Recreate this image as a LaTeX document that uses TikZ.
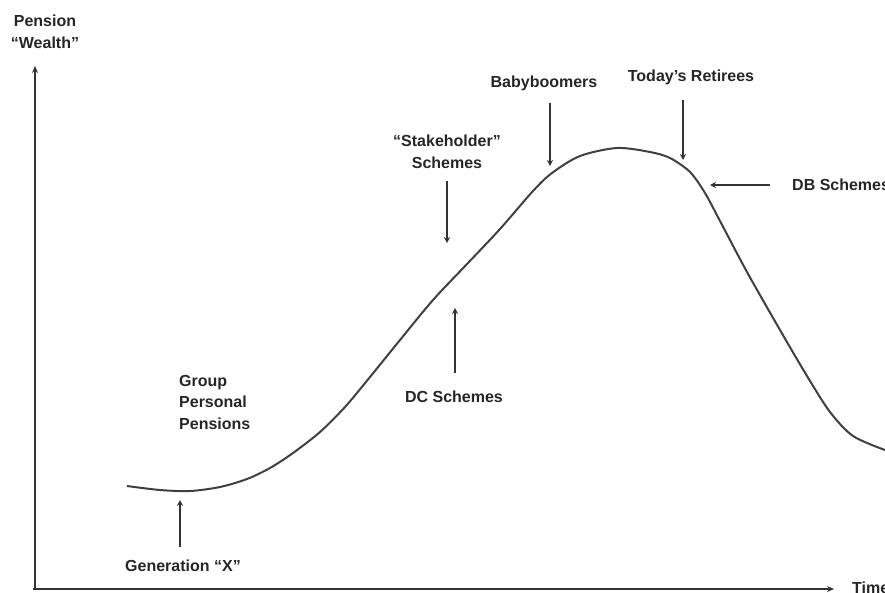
\documentclass[tikz,border=0pt]{standalone}
\usepackage{fontspec}
\setmainfont{Liberation Sans}
\usetikzlibrary{arrows.meta}
\begin{document}
\begin{tikzpicture}[x=1pt,y=-1pt,
  lbl/.style={font=\fontsize{16}{21.5}\selectfont\bfseries, text=black!85, inner sep=0pt},
  ptr/.style={line width=1.4pt, draw=black!80, -{Stealth[length=6pt,width=6pt]}},
  axis/.style={line width=1.4pt, draw=black!80, -{Stealth[length=7pt,width=6pt]}},
  curve/.style={line width=2pt, draw=black!75}]
\useasboundingbox (0,0) rectangle (885,592);
% axes
\coordinate (orig) at (35,590);
\coordinate (ytop) at (35,66);
\coordinate (xstart) at (33,589);
\coordinate (xend) at (834,589);
\draw[axis] (orig) -- (ytop);
\draw[axis] (xstart) -- (xend);
\node[lbl, align=center] (ylab) at (45,32) {Pension\\“Wealth”};
\node[lbl, anchor=west] (xlab) at (852,588) {Time};
% curve
\draw[curve] plot[smooth, tension=0.5] coordinates {
 (127,486) (160,490) (190,491) (220,487) (247,479) (270,468) (293,453)
 (320,432) (345,407) (370,377) (400,340) (433,300) (467,264) (500,229)
 (533,191) (552,173) (580,156) (617,148) (650,152) (670,158) (690,172)
 (705,193) (720,221) (747,272) (780,330) (807,376) (830,412) (853,436) (885,450)};
% labels
\node[lbl] (bb) at (544,83) {Babyboomers};
\node[lbl] (tr) at (691,77) {Today's Retirees};
\node[lbl, align=center] (sh) at (447,152) {“Stakeholder”\\Schemes};
\node[lbl, anchor=west] (db) at (792,185) {DB Schemes};
\node[lbl, align=left, anchor=west] (gpp) at (179,402) {Group\\Personal\\Pensions};
\node[lbl] (dc) at (454,397) {DC Schemes};
\node[lbl] (gx) at (183,566) {Generation “X”};
% pointers
\coordinate (bbS) at (550,103); \coordinate (bbE) at (550,166);
\coordinate (trS) at (683,100); \coordinate (trE) at (683,160);
\coordinate (shS) at (447,181); \coordinate (shE) at (447,243);
\coordinate (dbS) at (770,185); \coordinate (dbE) at (710,185);
\coordinate (dcS) at (455,373); \coordinate (dcE) at (455,308);
\coordinate (gxS) at (180,547); \coordinate (gxE) at (180,500);
\draw[ptr] (bbS) -- (bbE);
\draw[ptr] (trS) -- (trE);
\draw[ptr] (shS) -- (shE);
\draw[ptr] (dbS) -- (dbE);
\draw[ptr] (dcS) -- (dcE);
\draw[ptr] (gxS) -- (gxE);
\end{tikzpicture}
\end{document}
